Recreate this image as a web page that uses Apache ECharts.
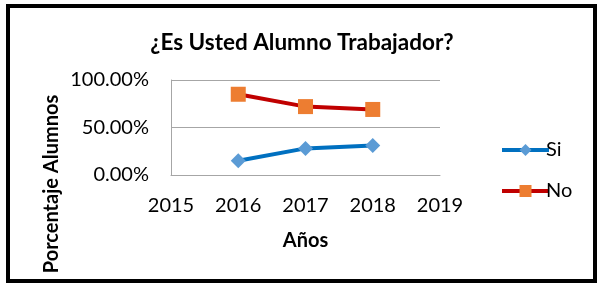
<!DOCTYPE html>
<html><head><meta charset="utf-8">
<script src="https://cdn.jsdelivr.net/npm/echarts@6/dist/echarts.min.js"></script>
<style>html,body{margin:0;padding:0;background:#fff}#c{width:604px;height:288px}</style>
</head><body><div id="c"></div>
<script>
const years = [2016, 2017, 2018];
const siValues = [0.15, 0.28, 0.31];
const noValues = [0.85, 0.72, 0.69];
const yTicks = [0, 0.5, 1];
const seriesNames = ['Si', 'No'];

const FONT = 'Lato, "Liberation Sans", sans-serif';
const chart = echarts.init(document.getElementById('c'), null, {renderer: 'canvas'});
chart.setOption({
  animation: false,
  backgroundColor: '#fff',
  title: {
    text: '¿Es Usted Alumno Trabajador?',
    left: 'center', top: 26,
    textStyle: {fontFamily: FONT, fontSize: 22.5, fontWeight: 'bold', color: '#000'}
  },
  grid: {left: 171, right: 164, top: 80, bottom: 113},
  legend: {
    orient: 'vertical', left: 495, top: 135, itemGap: 21,
    itemWidth: 47, itemHeight: 15,
    lineStyle: {width: 4},
    textStyle: {fontFamily: FONT, fontSize: 20, color: '#000', padding: [0, 0, 0, -8]},
    data: seriesNames
  },
  xAxis: {
    type: 'value', min: 2015, max: 2019, interval: 1,
    name: 'Años', nameLocation: 'middle', nameGap: 56,
    nameTextStyle: {fontFamily: FONT, fontSize: 20, fontWeight: 'bold', color: '#000'},
    axisLine: {show: true, lineStyle: {color: '#A6A6A6', width: 1}},
    axisTick: {show: false},
    splitLine: {show: false},
    axisLabel: {fontFamily: FONT, fontSize: 20, color: '#000', margin: 21,
      formatter: v => String(v)}
  },
  yAxis: {
    type: 'value', min: yTicks[0], max: yTicks[yTicks.length - 1], interval: 0.5,
    axisLine: {show: true, lineStyle: {color: '#A6A6A6', width: 1}},
    axisTick: {show: false},
    splitLine: {show: true, lineStyle: {color: '#A6A6A6', width: 1}},
    axisLabel: {fontFamily: FONT, fontSize: 20, color: '#000', margin: 22,
      formatter: v => (v * 100).toFixed(2) + '%'}
  },
  graphic: [
    {type: 'text', x: 52, y: 184, rotation: Math.PI / 2,
     style: {text: 'Porcentaje Alumnos', font: 'bold 20px ' + FONT, fill: '#000',
       textAlign: 'center', textVerticalAlign: 'middle'}},
    {type: 'rect', shape: {x: 8, y: 6, width: 587, height: 275},
     style: {fill: 'none', stroke: '#000', lineWidth: 4}, z: 100}
  ],
  series: [
    {name: seriesNames[0], type: 'line', data: years.map((y, i) => [y, siValues[i]]),
     lineStyle: {color: '#0070C0', width: 4},
     itemStyle: {color: '#5B9BD5'},
     symbol: 'diamond', symbolSize: 15, showSymbol: true},
    {name: seriesNames[1], type: 'line', data: years.map((y, i) => [y, noValues[i]]),
     lineStyle: {color: '#C00000', width: 4},
     itemStyle: {color: '#ED7D31'},
     symbol: 'rect', symbolSize: 15, showSymbol: true}
  ]
});
</script></body></html>
